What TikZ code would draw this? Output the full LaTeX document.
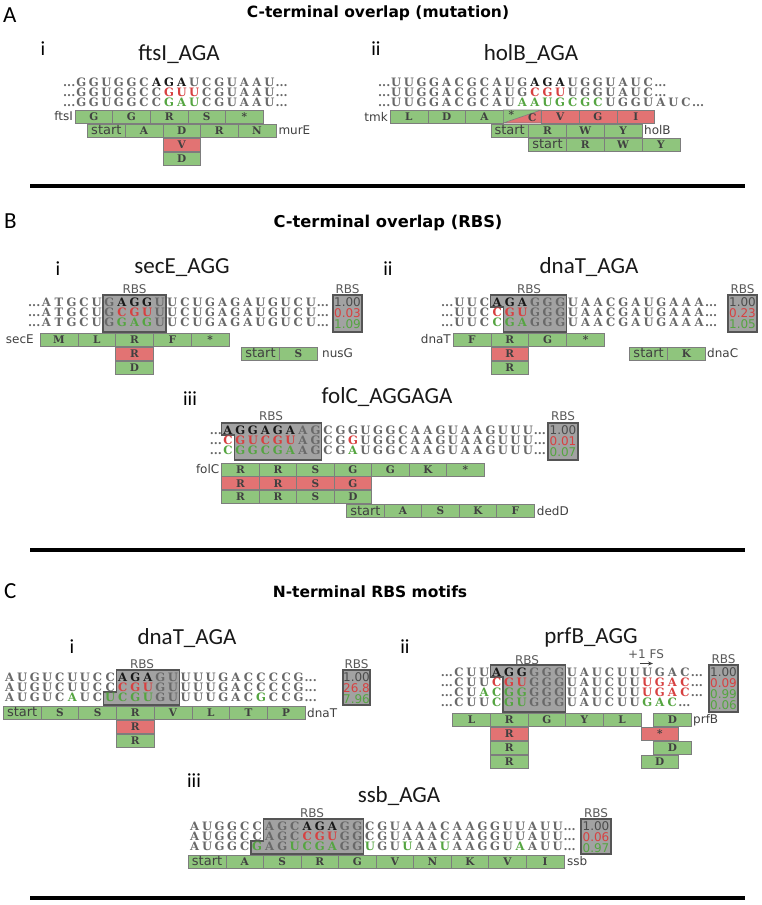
\documentclass[tikz,border=0pt]{standalone}
\usepackage{fontspec}
\usetikzlibrary{arrows.meta}
\newfontfamily\seqf{DejaVu Serif}
\newfontfamily\labf{DejaVu Sans}
\newfontfamily\titf{Carlito}
\definecolor{gfill}{RGB}{143,197,125}
\definecolor{rfill}{RGB}{226,115,115}
\definecolor{bbord}{RGB}{125,125,125}
\definecolor{seqgray}{RGB}{105,105,105}
\definecolor{seqred}{RGB}{215,65,65}
\definecolor{seqgreen}{RGB}{85,165,65}
\definecolor{rbsfill}{RGB}{162,162,162}
\definecolor{rbsdraw}{RGB}{85,85,85}
\newcounter{nd}
\newcommand\Bk[1]{\textcolor{black!90}{#1}}
\newcommand\Rd[1]{\textcolor{seqred}{#1}}
\newcommand\Gr[1]{\textcolor{seqgreen}{#1}}
\def\xo{0}\def\pp{12.6}
\def\X#1{\xo+#1*\pp}
\newcommand\seqchars[2]{\foreach \nt [count=\i from 0] in {#2} {\stepcounter{nd}\node[seqch,name=q\arabic{nd}] at ({\xo+(\i+0.5)*\pp},#1) {\nt};}}
\newcommand\trail[2]{\stepcounter{nd}\node[seqch,anchor=west,name=q\arabic{nd}] at ({\xo+#2*\pp-0.5},#1) {...};}
\newcommand\lead[1]{\stepcounter{nd}\node[seqch,anchor=east,name=q\arabic{nd}] at ({\xo+0.5},#1) {...};}
\newcommand\seqL[3]{\lead{#1}\seqchars{#1}{#3}\trail{#1}{#2}}
\newcommand\seqN[3]{\seqchars{#1}{#3}\trail{#1}{#2}}
\newcommand\codrow[3]{\foreach \pst/\plb [count=\i from 0] in {#3} {\stepcounter{nd}\node[\pst,name=c\arabic{nd}] at ({\xo+(#1+3*\i+1.5)*\pp},{#2+6.5}) {\plb};}}
\tikzset{
 seqch/.style={inner sep=0pt, text height=8.2pt, text depth=0pt, font=\seqf\bfseries\fontsize{11.6}{11.6}\selectfont, text=seqgray},
 codbox/.style={draw=bbord, line width=0.6pt, minimum width=3*\pp*1pt, minimum height=13pt, inner sep=0pt, font=\seqf\bfseries\fontsize{10.5}{10.5}\selectfont, text=black!75},
 gbox/.style={codbox, fill=gfill},
 rbox/.style={codbox, fill=rfill},
 gs/.style={gbox, font=\labf\fontsize{13}{13}\selectfont},
 ptxt/.style={inner sep=0pt, font=\seqf\bfseries\fontsize{10.5}{10.5}\selectfont, text=black!75},
 gene/.style={inner sep=0pt, font=\labf\fontsize{12}{12}\selectfont, text=black!75},
 rbslab/.style={inner sep=0pt, font=\labf\fontsize{12}{12}\selectfont, text=black!65},
 rbsbox/.style={fill=rbsfill, draw=rbsdraw, line width=1.2pt},
 score/.style={inner sep=0pt, font=\labf\fontsize{12}{12}\selectfont},
 title/.style={inner sep=0pt, font=\titf\fontsize{23}{23}\selectfont, anchor=base, text=black!90},
 sub/.style={inner sep=0pt, font=\titf\fontsize{20}{20}\selectfont, anchor=base},
 head/.style={inner sep=0pt, font=\labf\bfseries\fontsize{15.5}{15.5}\selectfont, anchor=base},
 panel/.style={inner sep=0pt, font=\titf\fontsize{23}{23}\selectfont, anchor=base west},
 rulel/.style={line width=4.5pt},
}
\begin{document}
\begin{tikzpicture}[x=1pt,y=-1pt]
\useasboundingbox (0,0) rectangle (762,905);
\fill[white] (0,0) rectangle (762,905);
% ---------- headers and rules
\node[panel] (pA) at (3,22) {A};
\node[head] (hA) at (378,17.5) {C-terminal overlap (mutation)};
\node[panel] (pB) at (4,228) {B};
\node[head,font=\labf\bfseries\fontsize{16.3}{16.3}\selectfont] (hB) at (388,227) {C-terminal overlap (RBS)};
\node[panel] (pC) at (4,598) {C};
\node[head] (hC) at (370,597) {N-terminal RBS motifs};
\draw[rulel] (30,186) -- (745,186);
\draw[rulel] (30,550) -- (745,550);
\draw[rulel] (30,898) -- (745,898);
% ================= A i
\def\xo{75}\def\pp{12.55}
\node[sub] (sAi) at (43,55) {i};
\node[title] (tAi) at (179,60) {ftsI\_AGA};
\seqL{82}{16}{G,G,U,G,G,C,\Bk{A},\Bk{G},\Bk{A},U,C,G,U,A,A,U}
\seqL{92}{16}{G,G,U,G,G,C,C,\Rd{G},\Rd{U},\Rd{U},C,G,U,A,A,U}
\seqL{102}{16}{G,G,U,G,G,C,C,\Gr{G},\Gr{A},\Gr{U},C,G,U,A,A,U}
\codrow{0}{110}{gbox/G,gbox/G,gbox/R,gbox/S,gbox/*}
\codrow{1}{124}{gs/start,gbox/A,gbox/D,gbox/R,gbox/N}
\codrow{7}{138}{rbox/V}
\codrow{7}{152}{gbox/D}
\node[gene,anchor=east] (gftsI) at (73,116.5) {ftsI};
\node[gene,anchor=west] (gmurE) at ({\X{16}+2.5},130.5) {murE};
% ================= A ii
\def\xo{390}\def\pp{12.6}
\node[sub] (sAii) at (376,55) {ii};
\node[title] (tAii) at (531,60) {holB\_AGA};
\seqL{82}{21}{U,U,G,G,A,C,G,C,A,U,G,\Bk{A},\Bk{G},\Bk{A},U,G,G,U,A,U,C}
\seqL{92}{21}{U,U,G,G,A,C,G,C,A,U,G,\Rd{C},\Rd{G},\Rd{U},U,G,G,U,A,U,C}
\seqL{102}{24}{U,U,G,G,A,C,G,C,A,U,\Gr{A},\Gr{A},\Gr{U},\Gr{G},\Gr{C},\Gr{G},\Gr{C},U,G,G,U,A,U,C}
\codrow{0}{110}{gbox/L,gbox/D,gbox/A}
\fill[gfill] ({\X{9}},110) -- ({\X{12}},110) -- ({\X{9}},123) -- cycle;
\fill[rfill] ({\X{12}},110) -- ({\X{12}},123) -- ({\X{9}},123) -- cycle;
\draw[bbord,line width=0.6pt] ({\X{9}},110) rectangle ({\X{12}},123) ({\X{9}},123) -- ({\X{12}},110);
\node[ptxt] (splitA) at ({\X{9}+8},115) {*};
\node[ptxt] (splitC) at ({\X{12}-9},118) {C};
\codrow{12}{110}{rbox/V,rbox/G,rbox/I}
\codrow{8}{124}{gs/start,gbox/R,gbox/W,gbox/Y}
\codrow{11}{138}{gs/start,gbox/R,gbox/W,gbox/Y}
\node[gene,anchor=east] (gtmk) at (388,116.5) {tmk};
\node[gene,anchor=west] (gholB) at ({\X{20}+2},130.5) {holB};
% ================= B i
\def\xo{40}\def\pp{12.6}
\node[sub] (sBi) at (58,275) {i};
\node[title] (tBi) at (182,273) {secE\_AGG};
\draw[rbsbox] ({\X{5}},295) rectangle ({\X{10}},332);
\node[rbslab] (rBi) at (134.5,289) {RBS};
\seqL{302}{22}{A,T,G,C,U,G,\Bk{A},\Bk{G},\Bk{G},U,U,C,U,G,A,G,A,U,G,U,C,U}
\seqL{312}{22}{A,T,G,C,U,G,\Rd{C},\Rd{G},\Rd{U},U,U,C,U,G,A,G,A,U,G,U,C,U}
\seqL{322}{22}{A,T,G,C,U,G,\Gr{G},\Gr{A},\Gr{G},U,U,C,U,G,A,G,A,U,G,U,C,U}
\codrow{0}{333}{gbox/M,gbox/L,gbox/R,gbox/F,gbox/*}
\codrow{6}{347}{rbox/R}
\codrow{6}{361}{gbox/D}
\codrow{16}{347}{gs/start,gbox/S}
\node[gene,anchor=east] (gsecE) at (34,339.5) {secE};
\node[gene,anchor=west] (gnusG) at (322,353.5) {nusG};
\draw[rbsbox] (333,295) rectangle (362,332);
\node[rbslab] (rsBi) at (347.5,289) {RBS};
\node[score,text=black!70] (vBi1) at (347.5,302) {1.00};
\node[score,text=seqred] (vBi2) at (347.5,313) {0.03};
\node[score,text=seqgreen] (vBi3) at (347.5,324) {1.09};
% ================= B ii
\def\xo{453}\def\pp{12.62}
\node[sub] (sBii) at (388,275) {ii};
\node[title] (tBii) at (589,273) {dnaT\_AGA};
\draw[rbsbox] ({\X{3}},295) -- ({\X{9}},295) -- ({\X{9}},332) -- ({\X{4}},332) -- ({\X{4}},307) -- ({\X{3}},307) -- cycle;
\node[rbslab] (rBii) at (529,289) {RBS};
\seqL{302}{20}{U,U,C,\Bk{A},\Bk{G},\Bk{A},G,G,G,U,A,A,C,G,A,U,G,A,A,A}
\seqL{312}{20}{U,U,C,\Rd{C},\Rd{G},\Rd{U},G,G,G,U,A,A,C,G,A,U,G,A,A,A}
\seqL{322}{20}{U,U,C,\Gr{C},\Gr{G},\Gr{A},G,G,G,U,A,A,C,G,A,U,G,A,A,A}
\codrow{0}{333}{gbox/F,gbox/R,gbox/G,gbox/*}
\codrow{3}{347}{rbox/R}
\codrow{3}{361}{gbox/R}
\codrow{14}{347}{gs/start,gbox/K}
\node[gene,anchor=east] (gdnaT) at (451,339.5) {dnaT};
\node[gene,anchor=west] (gdnaC) at (707,353.5) {dnaC};
\draw[rbsbox] (728,295) rectangle (757,332);
\node[rbslab] (rsBii) at (742.5,289) {RBS};
\node[score,text=black!70] (vBii1) at (742.5,302) {1.00};
\node[score,text=seqred] (vBii2) at (742.5,313) {0.23};
\node[score,text=seqgreen] (vBii3) at (742.5,324) {1.05};
% ================= B iii
\def\xo{221.7}\def\pp{12.5}
\node[sub] (sBiii) at (190,405) {iii};
\node[title] (tBiii) at (387,403) {folC\_AGGAGA};
\draw[rbsbox] ({\X{0}},423) -- ({\X{8}},423) -- ({\X{8}},460) -- ({\X{1}},460) -- ({\X{1}},435) -- ({\X{0}},435) -- cycle;
\node[rbslab] (rBiii) at (271,416.5) {RBS};
\seqL{430}{25}{\Bk{A},\Bk{G},\Bk{G},\Bk{A},\Bk{G},\Bk{A},A,G,C,G,G,U,G,G,C,A,A,G,U,A,A,G,U,U,U}
\seqL{440}{25}{\Rd{C},\Rd{G},\Rd{U},\Rd{C},\Rd{G},\Rd{U},A,G,C,G,\Rd{G},U,G,G,C,A,A,G,U,A,A,G,U,U,U}
\seqL{450}{25}{\Gr{C},\Gr{G},\Gr{G},\Gr{C},\Gr{G},\Gr{A},A,G,C,G,\Gr{A},U,G,G,C,A,A,G,U,A,A,G,U,U,U}
\codrow{0}{463}{gbox/R,gbox/R,gbox/S,gbox/G,gbox/G,gbox/K,gbox/*}
\codrow{0}{476.7}{rbox/R,rbox/R,rbox/S,rbox/G}
\codrow{0}{490.4}{gbox/R,gbox/R,gbox/S,gbox/D}
\codrow{10}{504.1}{gs/start,gbox/A,gbox/S,gbox/K,gbox/F}
\node[gene,anchor=east] (gfolC) at (219.5,469.5) {folC};
\node[gene,anchor=west] (gdedD) at ({\X{25}+2.5},510.6) {dedD};
\draw[rbsbox] (548,423) rectangle (578,460);
\node[rbslab] (rsBiii) at (563,416.5) {RBS};
\node[score,text=black!70] (vBiii1) at (563,430) {1.00};
\node[score,text=seqred] (vBiii2) at (563,441) {0.01};
\node[score,text=seqgreen] (vBiii3) at (563,452) {0.07};
% ================= C i
\def\xo{3.3}\def\pp{12.57}
\node[sub] (sCi) at (72,653) {i};
\node[title] (tCi) at (187,644) {dnaT\_AGA};
\draw[rbsbox] ({\X{9}},670) -- ({\X{14}},670) -- ({\X{14}},705) -- ({\X{8}},705) -- ({\X{8}},692) -- ({\X{9}},692) -- cycle;
\node[rbslab] (rCi) at (142,664) {RBS};
\seqN{677}{24}{A,U,G,U,C,U,U,C,C,\Bk{A},\Bk{G},\Bk{A},G,U,U,U,U,G,A,C,C,C,C,G}
\seqN{687}{24}{A,U,G,U,C,U,U,C,C,\Rd{C},\Rd{G},\Rd{U},G,U,U,U,U,G,A,C,C,C,C,G}
\seqN{697}{24}{A,U,G,U,C,\Gr{A},U,C,\Gr{U},\Gr{C},\Gr{G},\Gr{U},G,U,U,U,U,G,A,C,\Gr{G},C,C,G}
\codrow{0}{706}{gs/start,gbox/S,gbox/S,gbox/R,gbox/V,gbox/L,gbox/T,gbox/P}
\codrow{9}{720}{rbox/R}
\codrow{9}{734}{gbox/R}
\node[gene,anchor=west] (gdnaT2) at (307,713) {dnaT};
\draw[rbsbox] (343,670) rectangle (370,705);
\node[rbslab] (rsCi) at (356.5,664) {RBS};
\node[score,text=black!70] (vCi1) at (356.5,677) {1.00};
\node[score,text=seqred] (vCi2) at (356.5,688) {26.8};
\node[score,text=seqgreen] (vCi3) at (356.5,699) {7.96};
% ================= C ii
\def\xo{452.7}\def\pp{12.55}
\node[sub] (sCii) at (405,653) {ii};
\node[title] (tCii) at (591,643) {prfB\_AGG};
\node[rbslab] (fsl) at (646,654) {+1 FS};
\coordinate (fs1) at (640,663.5);
\coordinate (fs2) at (653,663.5);
\draw[-{Stealth[length=5pt,width=4pt]},line width=0.8pt,black!75] (fs1) -- (fs2);
\draw[rbsbox] ({\X{3}},665) -- ({\X{9}},665) -- ({\X{9}},712) -- ({\X{4}},712) -- ({\X{4}},677) -- ({\X{3}},677) -- cycle;
\node[rbslab] (rCii) at (527,660) {RBS};
\seqL{672}{19}{C,U,U,\Bk{A},\Bk{G},\Bk{G},G,G,G,U,A,U,C,U,U,U,G,A,C}
\seqL{682}{19}{C,U,U,\Rd{C},\Rd{G},\Rd{U},G,G,G,U,A,U,C,U,U,\Rd{U},\Rd{G},\Rd{A},\Rd{C}}
\seqL{692}{19}{C,U,\Gr{A},\Gr{C},\Gr{G},\Gr{G},G,G,G,U,A,U,C,U,U,\Rd{U},\Rd{G},\Rd{A},\Rd{C}}
\seqL{702}{18}{C,U,U,\Gr{C},\Gr{G},\Gr{U},G,G,G,U,A,U,C,U,U,\Gr{G},\Gr{A},\Gr{C}}
\codrow{0}{713}{gbox/L,gbox/R,gbox/G,gbox/Y,gbox/L}
\codrow{16}{713}{gbox/D}
\codrow{3}{727}{rbox/R}
\codrow{15}{727}{rbox/*}
\codrow{3}{741}{gbox/R}
\codrow{16}{741}{gbox/D}
\codrow{3}{755}{gbox/R}
\codrow{15}{755}{gbox/D}
\node[gene,anchor=west] (gprfB) at (693,720) {prfB};
\draw[rbsbox] (709,665) rectangle (738,712);
\node[rbslab] (rsCii) at (723.5,659) {RBS};
\node[score,text=black!70] (vCii1) at (723.5,672) {1.00};
\node[score,text=seqred] (vCii2) at (723.5,683) {0.09};
\node[score,text=seqgreen] (vCii3) at (723.5,694) {0.99};
\node[score,text=seqgreen] (vCii4) at (723.5,705) {0.06};
% ================= C iii
\def\xo{188.3}\def\pp{12.52}
\node[sub] (sCiii) at (194,787) {iii};
\node[title] (tCiii) at (399,802) {ssb\_AGA};
\draw[rbsbox] ({\X{6}},819) -- ({\X{14}},819) -- ({\X{14}},854) -- ({\X{5}},854) -- ({\X{5}},841) -- ({\X{6}},841) -- cycle;
\node[rbslab] (rCiii) at (312,813) {RBS};
\seqN{826}{30}{A,U,G,G,C,C,A,G,C,\Bk{A},\Bk{G},\Bk{A},G,G,C,G,U,A,A,A,C,A,A,G,G,U,U,A,U,U}
\seqN{836}{30}{A,U,G,G,C,C,A,G,C,\Rd{C},\Rd{G},\Rd{U},G,G,C,G,U,A,A,A,C,A,A,G,G,U,U,A,U,U}
\seqN{846}{30}{A,U,G,G,C,\Gr{G},A,G,\Gr{U},\Gr{C},\Gr{G},\Gr{A},G,G,\Gr{U},G,U,\Gr{U},A,A,\Gr{U},A,A,G,G,U,\Gr{A},A,U,U}
\codrow{0}{855}{gs/start,gbox/A,gbox/S,gbox/R,gbox/G,gbox/V,gbox/N,gbox/K,gbox/V,gbox/I}
\node[gene,anchor=west] (gssb) at (567,861.5) {ssb};
\draw[rbsbox] (581,819) rectangle (611,854);
\node[rbslab] (rsCiii) at (596,813) {RBS};
\node[score,text=black!70] (vCiii1) at (596,826) {1.00};
\node[score,text=seqred] (vCiii2) at (596,837) {0.06};
\node[score,text=seqgreen] (vCiii3) at (596,848) {0.97};
\end{tikzpicture}
\end{document}
